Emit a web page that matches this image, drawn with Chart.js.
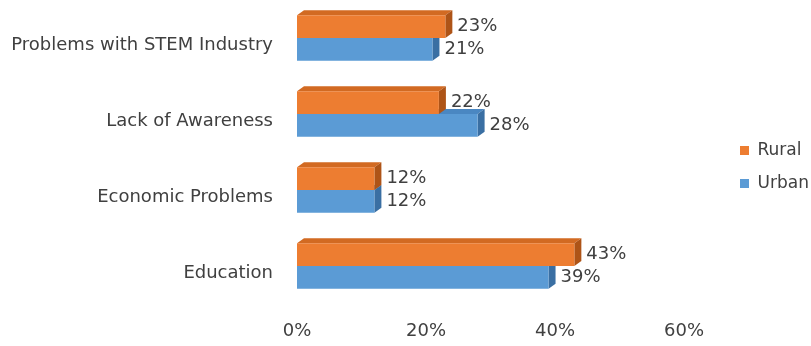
<!DOCTYPE html>
<html>
<head>
<meta charset="utf-8">
<script src="https://cdn.jsdelivr.net/npm/chart.js@4.4.1/dist/chart.umd.min.js"></script>
<style>
  html, body { margin: 0; padding: 0; background: #ffffff; }
  #wrap { width: 811px; height: 346px; position: relative; }
</style>
</head>
<body>
<div id="wrap"><canvas id="chart"></canvas></div>
<script>
// Survey categories and the share of respondents per group (percent)
const categories = [
  'Problems with STEM Industry',
  'Lack of Awareness',
  'Economic Problems',
  'Education'
];
const seriesNames = ['Rural', 'Urban'];
const ruralValues = [23, 22, 12, 43];
const urbanValues = [21, 28, 12, 39];
const axisTicks = [0, 20, 40, 60];

const FRONT = ['#ED7D31', '#5B9BD5'];
const TOP = ['#D26A22', '#4A87C2'];
const SIDE = ['#AE5417', '#3A6FA3'];
const DEPTH_X = 7;
const DEPTH_Y = 5;
const TEXT = '#404040';
const FONT = 'DejaVu Sans, Verdana, sans-serif';

// Extrudes every bar into a simple 3D block: top face and right end face,
// then writes the value next to each bar
const extrude = {
  id: 'extrude',
  beforeDatasetsDraw(chart) {
    const ctx = chart.ctx;
    ctx.save();
    // back series first so the upper bar's faces sit in front
    for (let d = chart.data.datasets.length - 1; d >= 0; d--) {
      const meta = chart.getDatasetMeta(d);
      meta.data.forEach(bar => {
        const p = bar.getProps(['x', 'y', 'base', 'height'], true);
        const top = p.y - p.height / 2;
        const bottom = p.y + p.height / 2;
        const x0 = p.base, x1 = p.x;
        ctx.fillStyle = TOP[d];
        ctx.beginPath();
        ctx.moveTo(x0, top);
        ctx.lineTo(x0 + DEPTH_X, top - DEPTH_Y);
        ctx.lineTo(x1 + DEPTH_X, top - DEPTH_Y);
        ctx.lineTo(x1, top);
        ctx.closePath();
        ctx.fill();
        ctx.fillStyle = SIDE[d];
        ctx.beginPath();
        ctx.moveTo(x1, top);
        ctx.lineTo(x1 + DEPTH_X, top - DEPTH_Y);
        ctx.lineTo(x1 + DEPTH_X, bottom - DEPTH_Y);
        ctx.lineTo(x1, bottom);
        ctx.closePath();
        ctx.fill();
      });
    }
    ctx.restore();
  },
  afterDatasetsDraw(chart) {
    const ctx = chart.ctx;
    ctx.save();
    ctx.font = '18px ' + FONT;
    ctx.fillStyle = TEXT;
    ctx.textAlign = 'left';
    ctx.textBaseline = 'middle';
    chart.data.datasets.forEach((ds, d) => {
      chart.getDatasetMeta(d).data.forEach((bar, i) => {
        const p = bar.getProps(['x', 'y'], true);
        ctx.fillText(ds.data[i] + '%', p.x + DEPTH_X + 5, p.y);
      });
    });
    ctx.restore();
  }
};

// Keeps the legend against the right edge, a little above centre
const legendPlacement = {
  id: 'legendPlacement',
  afterLayout(chart) {
    const lg = chart.legend;
    if (!lg) return;
    const w = lg.right - lg.left;
    lg.left = 724;
    lg.right = lg.left + w;
    lg.top -= 6;
    lg.bottom -= 6;
  }
};

new Chart(document.getElementById('chart'), {
  type: 'bar',
  data: {
    labels: categories,
    datasets: [
      { label: seriesNames[0], data: ruralValues, backgroundColor: FRONT[0] },
      { label: seriesNames[1], data: urbanValues, backgroundColor: FRONT[1] }
    ]
  },
  options: {
    indexAxis: 'y',
    responsive: true,
    maintainAspectRatio: false,
    animation: false,
    events: [],
    layout: { padding: { left: 10, top: 0, bottom: 0, right: 0 } },
    datasets: {
      bar: { barPercentage: 1, categoryPercentage: 0.6, borderWidth: 0 }
    },
    scales: {
      x: {
        min: axisTicks[0],
        max: axisTicks[axisTicks.length - 1],
        afterBuildTicks(scale) { scale.ticks = axisTicks.map(v => ({ value: v })); },
        afterFit(scale) {
          scale.height = 42;
          scale.paddingRight = 127;
        },
        grid: { display: false },
        border: { display: false },
        ticks: {
          padding: 9,
          maxRotation: 0,
          color: TEXT,
          font: { family: FONT, size: 18 },
          callback: v => v + '%'
        }
      },
      y: {
        afterFit(scale) {
          scale.width = 287;
          scale.paddingTop = 0;
          scale.paddingBottom = 0;
        },
        grid: { display: false },
        border: { display: false },
        ticks: {
          padding: 16,
          labelOffset: 7,
          color: TEXT,
          font: { family: FONT, size: 18 }
        }
      }
    },
    plugins: {
      legend: {
        position: 'right',
        labels: {
          color: TEXT,
          font: { family: FONT, size: 17 },
          boxWidth: 9,
          boxHeight: 9,
          padding: 16
        }
      },
      tooltip: { enabled: false }
    }
  },
  plugins: [extrude, legendPlacement]
});
</script>
</body>
</html>
